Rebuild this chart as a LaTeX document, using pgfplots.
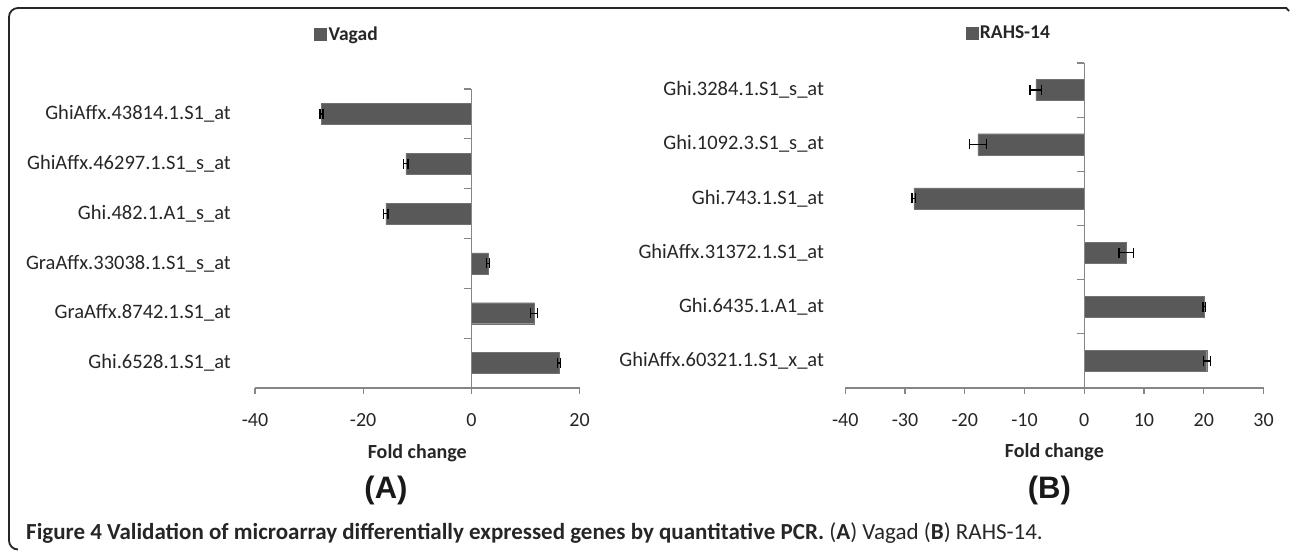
\documentclass[border=0pt]{standalone}
\usepackage{pgfplots}
\pgfplotsset{compat=1.18}
\usepackage{fontspec}
\setmainfont{Carlito}
\newfontfamily\arialfont{Liberation Sans}
\definecolor{barcol}{RGB}{89,89,89}
\definecolor{axgray}{RGB}{134,134,134}
\begin{document}
\begin{tikzpicture}
\useasboundingbox (0pt,0pt) rectangle (1290pt,551pt);
% frame
\draw[line width=1.8pt, black!85, rounded corners=9pt] (1287pt,543pt) -- (9pt,543pt) -- (9pt,1.5pt) -- (18pt,1.5pt);
\draw[line width=1.8pt, black!85] (1286pt,543pt) -- (1289pt,540pt);
\pgfplotsset{
  every axis/.append style={
    scale only axis,
    axis x line*=bottom,
    axis y line*=left,
    x axis line style={axgray, line width=1.3pt, -},
    y axis line style={draw=none},
    ytick style={draw=none},
    xtick style={axgray, line width=1.3pt},
    xtick align=outside,
    major tick length=6pt,
    ymin=-0.5, ymax=5.5,
    ytick={0,1,2,3,4,5},
    tick label style={font=\fontsize{20}{22}\selectfont, text=black!85},
    xticklabel style={yshift=-16pt},
    yticklabel style={anchor=east, inner sep=0pt, font=\fontsize{20.5}{22}\selectfont},
    xlabel={\textbf{Fold change}},
    xlabel style={font=\fontsize{20}{22}\selectfont, anchor=center, text=black!85},
    legend style={draw=none, fill=none, inner sep=0pt, anchor=west,
      font=\fontsize{19.5}{22}\selectfont\bfseries, text=black!85,
      nodes={inner sep=2pt}},
    legend image code/.code={\fill[barcol] (0pt,-6pt) rectangle (12pt,6pt);},
    clip=false,
  }
}
% Panel A
\begin{axis}[
  at={(255pt,163pt)}, anchor=south west,
  width=324.5pt, height=299pt,
  xmin=-40, xmax=20,
  xtick={-40,-20,0,20}, xticklabels={-40,-20,0,20},
  yticklabels={Ghi.6528.1.S1\_at, GraAffx.8742.1.S1\_at, GraAffx.33038.1.S1\_s\_at, Ghi.482.1.A1\_s\_at, GhiAffx.46297.1.S1\_s\_at, GhiAffx.43814.1.S1\_at},
  yticklabel style={xshift=-24pt},
  x label style={at={(axis description cs:0.5,-0.2164)}},
  legend style={at={(axis description cs:0.182,1.184)}},
]
\addplot[xbar, bar width=21pt, fill=barcol, draw=barcol!85!white,
  error bars/.cd, x dir=both, x explicit,
  error bar style={black, line width=1.3pt},
  error mark options={black, line width=1.3pt, mark size=5pt, rotate=90}]
  coordinates {(16.2,0) +- (0.3,0) (11.6,1) +- (0.6,0) (3.1,2) +- (0.3,0)
               (-15.8,3) +- (0.4,0) (-12.1,4) +- (0.4,0) (-27.7,5) +- (0.3,0)};
\addlegendentry{Vagad}
\draw[axgray, line width=1.3pt] (axis cs:0,-0.5) -- (axis cs:0,5.5);
\pgfplotsinvokeforeach{0.5,1.5,2.5,3.5,4.5,5.5}{\draw[axgray, line width=1.3pt] (axis cs:0,#1) -- ++(-7pt,0pt);}
\end{axis}
% Panel B
\begin{axis}[
  at={(845.2pt,163pt)}, anchor=south west,
  width=418.3pt, height=325pt,
  xmin=-40, xmax=30,
  xtick={-40,-30,-20,-10,0,10,20,30}, xticklabels={-40,-30,-20,-10,0,10,20,30},
  yticklabels={GhiAffx.60321.1.S1\_x\_at, Ghi.6435.1.A1\_at, GhiAffx.31372.1.S1\_at, Ghi.743.1.S1\_at, Ghi.1092.3.S1\_s\_at, Ghi.3284.1.S1\_s\_at},
  yticklabel style={xshift=-21pt},
  x label style={at={(axis description cs:0.5,-0.199)}},
  legend style={at={(axis description cs:0.2873,1.0923)}},
]
\addplot[xbar, bar width=21pt, fill=barcol, draw=barcol!85!white,
  error bars/.cd, x dir=both, x explicit,
  error bar style={black, line width=1.3pt},
  error mark options={black, line width=1.3pt, mark size=5pt, rotate=90}]
  coordinates {(20.5,0) +- (0.6,0) (20.05,1) +- (0.2,0) (7.0,2) +- (1.2,0)
               (-28.5,3) +- (0.3,0) (-17.8,4) +- (1.4,0) (-8.1,5) +- (1.0,0)};
\addlegendentry{RAHS-14}
\draw[axgray, line width=1.3pt] (axis cs:0,-0.5) -- (axis cs:0,5.5);
\pgfplotsinvokeforeach{0.5,1.5,2.5,3.5,4.5,5.5}{\draw[axgray, line width=1.3pt] (axis cs:0,#1) -- ++(-7pt,0pt);}
\end{axis}
\node[font=\arialfont\fontsize{31}{34}\selectfont\bfseries, text=black!90] at (386pt,61pt) {(A)};
\node[font=\arialfont\fontsize{31}{34}\selectfont\bfseries, text=black!90] at (1049.3pt,61pt) {(B)};
\node[anchor=west, font=\fontsize{23}{25}\selectfont, text=black!85, inner sep=0pt] at (26pt,18pt)
  {\textbf{Figure 4 Validation of microarray differentially expressed genes by quantitative PCR.} (\textbf{A}) Vagad (\textbf{B}) RAHS-14.};
\end{tikzpicture}
\end{document}
